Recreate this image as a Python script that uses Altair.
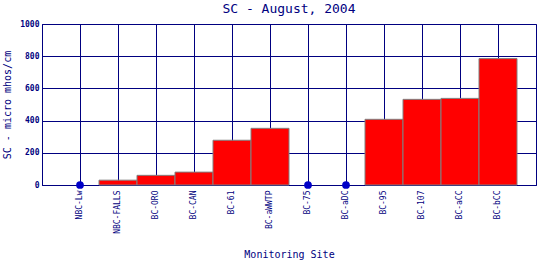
import altair as alt
import pandas as pd

sites = ["NBC-Lw", "NBC-FALLS", "BC-ORO", "BC-CAN", "BC-61", "BC-aWWTP",
         "BC-75", "BC-aDC", "BC-95", "BC-107", "BC-aCC", "BC-bCC"]
values = [0, 30, 60, 80, 278, 352, 0, 0, 408, 532, 538, 785]
y_ticks = [0, 200, 400, 600, 800, 1000]

df = pd.DataFrame({"site": sites, "value": values})

NAVY = "#000080"
FONT = "DejaVu Sans Mono"

x = alt.X("site:N", sort=sites, title="Monitoring Site",
          scale=alt.Scale(paddingInner=0, paddingOuter=0.5),
          axis=alt.Axis(labelAngle=-90, labelAlign="right", labelBaseline="middle",
                        ticks=False, labelPadding=5, bandPosition=0.5,
                        grid=True, gridColor=NAVY, gridWidth=1, gridOpacity=1,
                        domainColor=NAVY, labelColor=NAVY, titleColor=NAVY,
                        labelFont=FONT, labelFontSize=8, titleFont=FONT,
                        titleFontSize=10, titleFontWeight="normal", titlePadding=16))
y = alt.Y("value:Q", title="SC - micro mhos/cm",
          scale=alt.Scale(domain=[0, 1000], nice=False),
          axis=alt.Axis(values=y_ticks, format="d", ticks=False, labelPadding=3,
                        grid=True, gridColor=NAVY, gridWidth=1, gridOpacity=1,
                        domainColor=NAVY, labelColor=NAVY, titleColor=NAVY,
                        labelFont=FONT, labelFontSize=8, labelFontWeight="bold",
                        titleFont=FONT, titleFontSize=10, titleFontWeight="normal",
                        titlePadding=7))

base = alt.Chart(df)
bars = base.transform_filter("datum.value > 0").mark_bar(
    color="#ff0000", stroke="#808080", strokeWidth=1).encode(x=x, y=y)
dots = base.transform_filter("datum.value == 0").mark_point(
    filled=True, color="#0000c8", size=60, opacity=1).encode(x=x, y=y)

chart = alt.layer(bars, dots).properties(
    width=494, height=161,
    autosize="none",
    padding={"left": 42, "top": 24, "right": 4, "bottom": 75},
    title=alt.TitleParams("SC - August, 2004", font=FONT, fontSize=13,
                          fontWeight="normal", color=NAVY, anchor="middle", offset=4),
).configure_view(stroke=NAVY, strokeWidth=1)

chart.save("out.html", embed_options={"renderer": "svg", "actions": False})
